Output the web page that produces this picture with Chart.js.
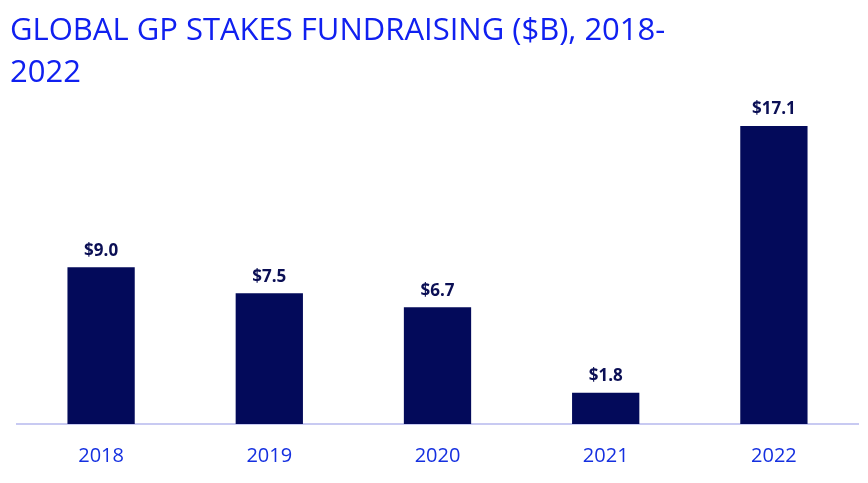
<!DOCTYPE html>
<html>
<head>
<meta charset="utf-8">
<script src="https://cdn.jsdelivr.net/npm/chart.js@4"></script>
<style>
  html, body { margin: 0; padding: 0; background: #ffffff; }
  #wrap { width: 868px; height: 483px; position: relative; }
</style>
</head>
<body>
<div id="wrap"><canvas id="fundraising"></canvas></div>
<script>
const years = ["2018", "2019", "2020", "2021", "2022"];
const fundsRaised = [9.0, 7.5, 6.7, 1.8, 17.1];
const titleLines = ["GLOBAL GP STAKES FUNDRAISING ($B), 2018-", "2022"];

// draws "$x.x" above every bar
const barLabels = {
  id: "barLabels",
  afterDatasetsDraw(chart) {
    const ctx = chart.ctx;
    const meta = chart.getDatasetMeta(0);
    ctx.save();
    ctx.font = "bold 17px 'Open Sans', sans-serif";
    ctx.fillStyle = "#0b0f55";
    ctx.textAlign = "center";
    ctx.textBaseline = "bottom";
    meta.data.forEach((bar, i) => {
      ctx.fillText("$" + fundsRaised[i].toFixed(1), bar.x, bar.y - 8);
    });
    ctx.restore();
  },
};

const ctx = document.getElementById("fundraising");
new Chart(ctx, {
  type: "bar",
  data: {
    labels: years,
    datasets: [
      {
        label: "GP stakes fundraising ($B)",
        data: fundsRaised,
        backgroundColor: "#030a5a",
        barPercentage: 0.4,
        categoryPercentage: 1.0,
      },
    ],
  },
  options: {
    responsive: true,
    maintainAspectRatio: false,
    animation: false,
    layout: { padding: { left: 10, right: 10, top: 0, bottom: -5 } },
    plugins: {
      legend: { display: false },
      tooltip: { enabled: false },
      title: {
        display: true,
        text: titleLines,
        align: "start",
        color: "#1020f0",
        font: { family: "'Open Sans', sans-serif", size: 31, weight: "normal", lineHeight: 1.35 },
        padding: { top: 10, bottom: 8 },
      },
    },
    scales: {
      x: {
        grid: { display: false, drawTicks: false },
        border: { display: true, color: "#c8caf2", width: 2 },
        ticks: {
          color: "#1530e0",
          font: { family: "'Open Sans', sans-serif", size: 20 },
          padding: 20,
        },
      },
      y: {
        display: true,
        min: 0,
        max: 18.5,
        grid: { display: false, drawTicks: false },
        border: { display: false },
        ticks: { display: false },
        afterFit(scale) {
          scale.width = 7;
        },
      },
    },
  },
  plugins: [barLabels],
});
</script>
</body>
</html>
